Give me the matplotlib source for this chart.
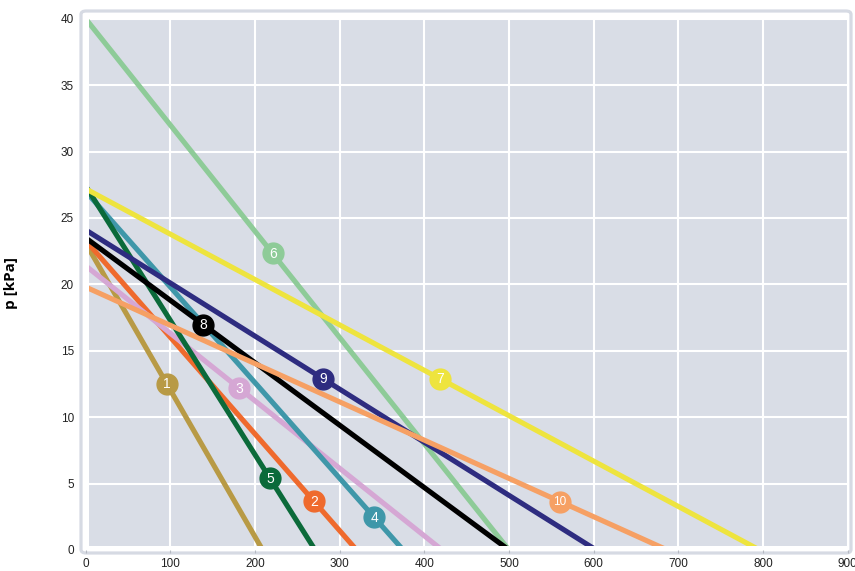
import matplotlib
matplotlib.use("Agg")
import matplotlib.pyplot as plt
from matplotlib.patches import FancyBboxPatch, Rectangle
from matplotlib import font_manager
import numpy as np

# ---- data ----
labels = ["1", "2", "3", "4", "5", "6", "7", "8", "9", "10"]
p_start = [23.1, 23.3, 21.4, 27.0, 27.4, 40.0, 27.2, 23.5, 24.1, 19.8]   # kPa at x=0
x_end = [209, 320, 421, 375, 271, 500, 796, 500, 603, 687]               # x where p=0
label_x = [95.7, 269.7, 181.5, 341, 217.7, 220.9, 418.5, 138.9, 280, 560.3]
colors = ["#b89a45", "#ef6a2d", "#d5a7d4", "#3f97a9", "#0b6a3a",
          "#8ecb98", "#eee43e", "#000000", "#2e2c80", "#f6a064"]
xticks = [0, 100, 200, 300, 400, 500, 600, 700, 800, 900]
yticks = [0, 5, 10, 15, 20, 25, 30, 35, 40]
ylabel = "p [kPa]"


def pick(fams):
    for f in fams:
        try:
            font_manager.findfont(f, fallback_to_default=False)
            return f
        except Exception:
            pass
    return "DejaVu Sans"


narrow = pick(["Liberation Sans Narrow", "Liberation Sans", "Open Sans"])
boldfam = pick(["Open Sans", "Liberation Sans", "DejaVu Sans"])

W, H = 855, 571
fig = plt.figure(figsize=(W / 100, H / 100), dpi=100)
fig.patch.set_facecolor("white")

# outer rounded frame (figure pixel coords -> fraction)
fx0, fx1, fy0, fy1 = 81, 851, 11, 553
frame = FancyBboxPatch((fx0 / W, 1 - fy1 / H), (fx1 - fx0) / W, (fy1 - fy0) / H,
                       boxstyle="round,pad=0,rounding_size=0.006",
                       transform=fig.transFigure, facecolor="white",
                       edgecolor="#d6dae3", linewidth=2.3, zorder=-5)
fig.patches.append(frame)

left, right = 85.7 / W, 847.6 / W
bottom, top = 1 - 550 / H, 1 - 18.8 / H
ax = fig.add_axes([left, bottom, right - left, top - bottom])
ax.set_zorder(2)
ax.set_facecolor("none")
ax.set_xlim(0, 900)
ax.set_ylim(0, 40)

grey = Rectangle((3.9, 0.32), 900 - 3.9, 40 - 0.32, facecolor="#d9dde6",
                 edgecolor="none", zorder=0.5)
ax.add_patch(grey)

for xt in xticks[1:]:
    ax.plot([xt, xt], [0.32, 40], color="white", lw=1.5, zorder=1, clip_path=grey)
for yt in yticks[1:]:
    ax.plot([3.9, 900], [yt, yt], color="white", lw=1.5, zorder=1, clip_path=grey)

for i in range(len(labels)):
    xs = [0, x_end[i]]
    ys = [p_start[i], 0]
    ln, = ax.plot(xs, ys, color=colors[i], lw=3.7, solid_capstyle="butt", zorder=2 + i * 0.01)
    ln.set_clip_path(grey)

for i in range(len(labels)):
    lx = label_x[i]
    ly = p_start[i] * (1 - lx / x_end[i])
    ax.plot([lx], [ly], marker="o", markersize=15, color=colors[i],
            markeredgecolor=colors[i], zorder=5)
    fs = 10 if len(labels[i]) == 1 else 8.5
    ax.text(lx, ly - 0.05, labels[i], color="white", ha="center", va="center",
            fontsize=fs, zorder=6, family=narrow)

for s in ax.spines.values():
    s.set_visible(False)

ax.set_xticks(xticks)
ax.set_yticks(yticks)
ax.tick_params(axis="both", length=2, width=0.8, color="#b5b9c2", labelsize=8.5,
               labelcolor="#222222")
ax.tick_params(axis="y", length=0, pad=8.5)
ax.tick_params(axis="x", pad=4)
for lab in ax.get_xticklabels() + ax.get_yticklabels():
    lab.set_family(narrow)

ax.set_ylabel(ylabel, fontsize=11, fontweight="bold", family=boldfam)
ax.yaxis.set_label_coords(-0.089, 0.503)

fig.savefig("out.png", dpi=100)
